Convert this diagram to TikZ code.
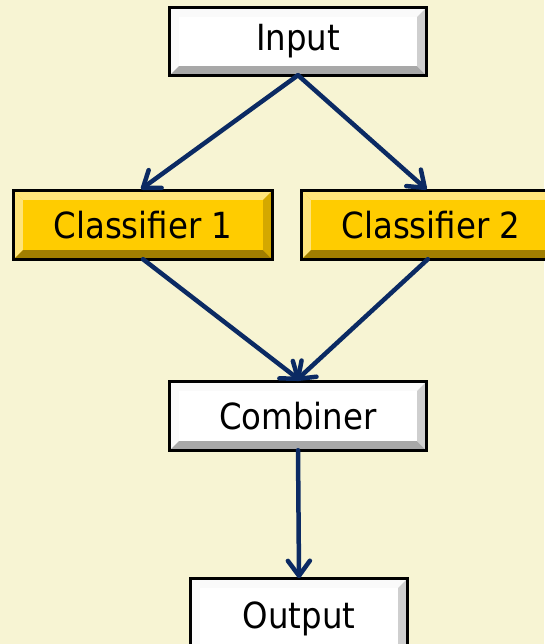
\documentclass[tikz,border=0pt]{standalone}
\usepackage{fontspec}
\setmainfont{DejaVu Sans Condensed}
\usetikzlibrary{calc,backgrounds,decorations.markings}
\definecolor{bgcol}{HTML}{F7F4D3}
\definecolor{navy}{HTML}{0B2A63}
\definecolor{gold}{HTML}{FFCC00}
\definecolor{goldlight}{HTML}{FFE47A}
\definecolor{golddark}{HTML}{A07E00}
\definecolor{goldside}{HTML}{D4A800}
\definecolor{greylight}{HTML}{FAFAFA}
\definecolor{greydark}{HTML}{A8A8A8}
\definecolor{greyside}{HTML}{CFCFCF}
\tikzset{
  x=1pt,y=-1pt,
  boxnode/.style={inner sep=0pt,minimum width=256pt,minimum height=67pt,font=\fontsize{36}{40}\selectfont,text=black},
  conn/.style={draw=navy,line width=4.5pt,line cap=round,line join=round,
    postaction={decorate},
    decoration={markings,mark=at position 1 with {\draw[navy,line width=4.5pt,line cap=round,line join=round] (-15pt,11pt) -- (0pt,0pt) -- (-15pt,-11pt);}}},
}
\newcommand{\bevelbox}[5]{% name, base, light, dark, side
  \fill[#2] (#1.north west) rectangle (#1.south east);
  \fill[#3] (#1.north west) -- (#1.north east) -- ($(#1.north east)+(-9,9)$) -- ($(#1.north west)+(9,9)$) -- cycle;
  \fill[#3] (#1.north west) -- ($(#1.north west)+(9,9)$) -- ($(#1.south west)+(9,-9)$) -- (#1.south west) -- cycle;
  \fill[#4] (#1.south west) -- (#1.south east) -- ($(#1.south east)+(-9,-9)$) -- ($(#1.south west)+(9,-9)$) -- cycle;
  \fill[#5] (#1.north east) -- ($(#1.north east)+(-9,9)$) -- ($(#1.south east)+(-9,-9)$) -- (#1.south east) -- cycle;
  \draw[black,line width=3pt] (#1.north west) rectangle (#1.south east);
}
\begin{document}
\begin{tikzpicture}
\useasboundingbox (0,0) rectangle (544,644);
\clip (0,0) rectangle (544,644);
\node[boxnode] (in) at (298,41.5) {Input};
\node[boxnode,minimum width=258pt,minimum height=68pt] (c1) at (143,225) {Classifier 1};
\node[boxnode,minimum width=258pt,minimum height=68pt] (c2) at (431,225) {Classifier 2};
\node[boxnode,minimum height=68pt] (cb) at (298,416) {Combiner};
\node[boxnode,minimum width=216pt,minimum height=80pt] (out) at (299,619) {Output};
\begin{scope}[on background layer]
\fill[bgcol] (0,0) rectangle (544,644);
\bevelbox{in}{white}{greylight}{greydark}{greyside}
\bevelbox{c1}{gold}{goldlight}{golddark}{goldside}
\bevelbox{c2}{gold}{goldlight}{golddark}{goldside}
\bevelbox{cb}{white}{greylight}{greydark}{greyside}
\bevelbox{out}{white}{greylight}{greydark}{greyside}
\end{scope}
\draw[conn] (in.south) -- ($(c1.north)+(0,-3)$);
\draw[conn] (in.south) -- ($(c2.north west)+(123,-3)$);
\draw[conn] (c1.south) -- ($(cb.north)+(0,-3)$);
\draw[conn] ($(c2.south west)+(126,0)$) -- ($(cb.north)+(0,-3)$);
\draw[conn] (cb.south) -- ($(out.north)+(0,-3)$);
\end{tikzpicture}
\end{document}
